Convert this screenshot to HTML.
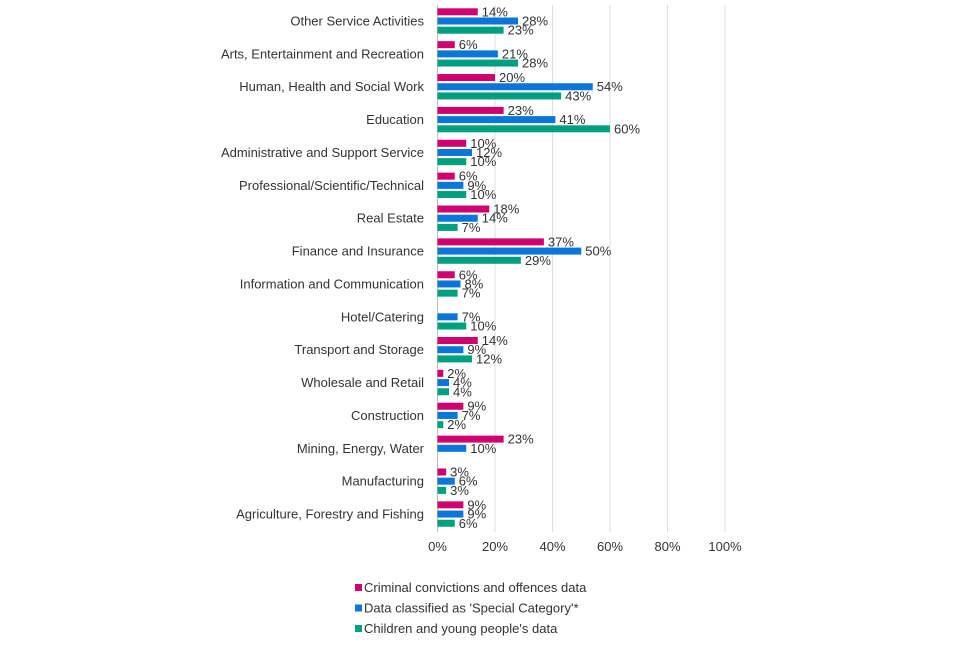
<!DOCTYPE html>
<html><head><meta charset="utf-8"><style>
body{margin:0;background:#fff;width:960px;height:640px;overflow:hidden;font-family:"Liberation Sans",sans-serif}
svg text{font-family:"Liberation Sans",sans-serif;fill:#333}
</style></head><body>
<svg id="chart" width="960" height="640" xmlns="http://www.w3.org/2000/svg"></svg>
<script>
const categories=["Other Service Activities","Arts, Entertainment and Recreation","Human, Health and Social Work","Education","Administrative and Support Service","Professional/Scientific/Technical","Real Estate","Finance and Insurance","Information and Communication","Hotel/Catering","Transport and Storage","Wholesale and Retail","Construction","Mining, Energy, Water","Manufacturing","Agriculture, Forestry and Fishing"];
const criminal=[14,6,20,23,10,6,18,37,6,0,14,2,9,23,3,9];
const special=[28,21,54,41,12,9,14,50,8,7,9,4,7,10,6,9];
const children=[23,28,43,60,10,10,7,29,7,10,12,4,2,0,3,6];
const ticks=[0,20,40,60,80,100];
const seriesNames=["Criminal convictions and offences data","Data classified as 'Special Category'*","Children and young people's data"];
const colors=["#d0006f","#0a76d8","#009f7f"];
const NS="http://www.w3.org/2000/svg";
const svg=document.getElementById('chart');
const x=v=>437.5+v*2.875;
const yc=i=>21+i*32.87;
function mk(t,a,txt){const e=document.createElementNS(NS,t);for(const k in a)e.setAttribute(k,a[k]);if(txt!==undefined)e.textContent=txt;svg.appendChild(e);return e;}
ticks.forEach(t=>{
 const g=mk('line',{x1:x(t),x2:x(t),y1:5,y2:532,stroke:t===0?'#bbb':'#ddd','stroke-width':1});
 
 
 const l=mk('text',{x:x(t),y:551,'text-anchor':'middle','font-size':13},t+'%');
 
 
});
const all=[criminal,special,children];
categories.forEach((c,i)=>{
 const cl=mk('text',{x:424,y:yc(i)+4.5,'text-anchor':'end','font-size':13},c);
 
 
 all.forEach((s,j)=>{
  const v=s[i];if(!v)return;
  const cy=yc(i)+(j-1)*9.2;
  const b=mk('rect',{x:x(0),y:cy-3.5,width:x(v)-x(0),height:7,fill:colors[j]});
  
  
  const t=mk('text',{x:x(v)+4,y:cy+4.5,'font-size':13},v+'%');
  
  
 });
});
seriesNames.forEach((n,j)=>{
 const y=589+j*20.5;
 const r=mk('rect',{x:355,y:y-5,width:7,height:7,fill:colors[j]});
 
 
 const t=mk('text',{x:364,y:y+3,'font-size':13},n);
 
 
});
</script>
</body></html>
